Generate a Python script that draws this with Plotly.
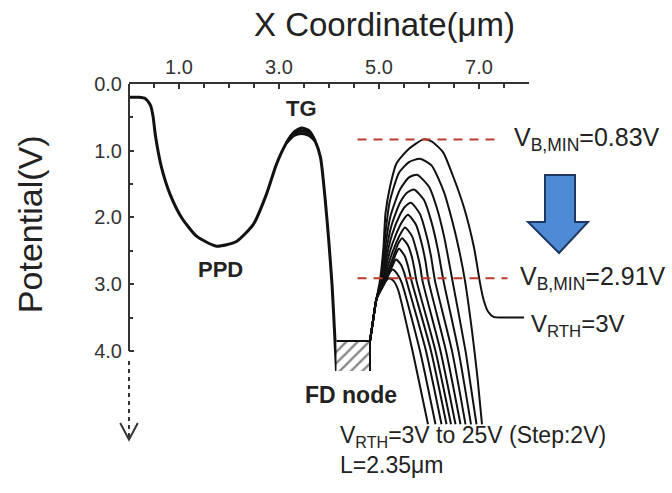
import plotly.graph_objects as go

# ---------------- data ----------------
X_TICKS = [1, 3, 5, 7]
X_TICKTEXT = ["1.0", "3.0", "5.0", "7.0"]
Y_TICKS = [0, 1, 2, 3, 4]
Y_TICKTEXT = ["0.0", "1.0", "2.0", "3.0", "4.0"]

# shared part of the potential profile: PPD well, TG barrier, FD left wall  (x um, potential V)
PROFILE = [(0.00, 0.20), (0.20, 0.20), (0.33, 0.22), (0.43, 0.32), (0.48, 0.48), (0.53, 0.78),
           (0.65, 1.25), (0.82, 1.65), (1.05, 2.00), (1.35, 2.28), (1.75, 2.43), (2.15, 2.36),
           (2.49, 2.10), (2.75, 1.65), (2.95, 1.20), (3.15, 0.88), (3.30, 0.72), (3.45, 0.66),
           (3.60, 0.70), (3.72, 0.85), (3.83, 1.10), (3.92, 1.70), (3.99, 2.30), (4.06, 3.00),
           (4.11, 3.70), (4.15, 4.30)]
# the TG barrier top is slightly different for each VRTH (thick band)
TG_SPREAD_A = [(3.15, 0.88), (3.30, 0.74), (3.45, 0.70), (3.60, 0.73), (3.72, 0.85)]
TG_SPREAD_B = [(3.15, 0.88), (3.30, 0.77), (3.45, 0.74), (3.60, 0.77), (3.72, 0.85)]

# FD node (hatched charge level)
FD_X = [4.15, 4.82]
FD_V = [3.85, 4.30]

# reset-drain curves, VRTH = 3V .. 25V (step 2V)
VRTH = [3, 5, 7, 9, 11, 13, 15, 17, 19, 21, 23, 25]
RTH_03 = [(4.82, 3.85), (4.88, 3.55), (4.95, 3.22), (5.02, 2.94), (5.09, 2.44), (5.13, 1.94), (5.22, 1.54),
          (5.35, 1.19), (5.60, 0.97), (5.89, 0.83), (6.05, 0.86), (6.28, 1.02), (6.47, 1.36), (6.70, 1.85),
          (6.90, 2.45), (7.02, 2.98), (7.09, 3.23), (7.18, 3.41), (7.29, 3.49), (7.45, 3.50), (7.90, 3.50)]
RTH_05 = [(4.82, 3.85), (4.88, 3.55), (4.95, 3.22), (5.04, 2.94), (5.12, 2.30), (5.21, 1.78), (5.40, 1.33),
          (5.60, 1.17), (5.82, 1.12), (6.05, 1.22), (6.30, 1.62), (6.46, 2.04), (6.60, 2.48), (6.72, 2.95),
          (6.86, 3.70), (6.97, 4.40), (7.06, 5.10)]
RTH_07 = [(4.82, 3.85), (4.88, 3.55), (4.95, 3.22), (5.05, 2.94), (5.13, 2.42), (5.23, 1.98), (5.42, 1.58),
          (5.60, 1.40), (5.76, 1.36), (6.00, 1.54), (6.15, 1.84), (6.30, 2.28), (6.47, 2.95), (6.73, 4.00),
          (6.84, 4.55), (6.95, 5.10)]
RTH_09 = [(4.82, 3.85), (4.88, 3.55), (4.95, 3.22), (5.06, 2.95), (5.14, 2.52), (5.25, 2.12), (5.42, 1.78),
          (5.56, 1.63), (5.70, 1.58), (5.90, 1.74), (6.05, 2.07), (6.18, 2.49), (6.29, 2.95), (6.59, 4.00),
          (6.84, 5.10)]
RTH_11 = [(4.82, 3.85), (4.88, 3.55), (4.95, 3.22), (5.07, 2.95), (5.15, 2.60), (5.26, 2.26), (5.42, 1.96),
          (5.52, 1.84), (5.64, 1.78), (5.82, 1.95), (5.95, 2.27), (6.04, 2.58), (6.12, 2.95), (6.46, 4.00),
          (6.73, 5.10)]
RTH_13 = [(4.82, 3.85), (4.88, 3.55), (4.95, 3.22), (5.08, 2.96), (5.16, 2.67), (5.27, 2.39), (5.42, 2.12),
          (5.50, 2.02), (5.58, 1.96), (5.74, 2.11), (5.85, 2.38), (5.93, 2.66), (5.99, 2.95), (6.34, 4.00),
          (6.63, 5.10)]
RTH_15 = [(4.82, 3.85), (4.88, 3.55), (4.95, 3.22), (5.08, 2.97), (5.17, 2.74), (5.28, 2.50), (5.42, 2.26),
          (5.52, 2.15), (5.66, 2.28), (5.75, 2.50), (5.82, 2.72), (5.87, 2.95), (6.23, 4.00), (6.53, 5.10)]
RTH_17 = [(4.82, 3.85), (4.88, 3.55), (4.95, 3.22), (5.09, 2.98), (5.18, 2.80), (5.28, 2.60), (5.38, 2.40),
          (5.46, 2.31), (5.58, 2.42), (5.66, 2.60), (5.71, 2.78), (5.75, 2.95), (6.13, 4.00), (6.44, 5.10)]
RTH_19 = [(4.82, 3.85), (4.88, 3.55), (4.95, 3.22), (5.09, 2.99), (5.18, 2.85), (5.27, 2.68), (5.34, 2.54),
          (5.40, 2.47), (5.51, 2.57), (5.58, 2.73), (5.65, 2.95), (6.04, 4.00), (6.35, 5.10)]
RTH_21 = [(4.82, 3.85), (4.88, 3.55), (4.95, 3.22), (5.09, 3.00), (5.17, 2.89), (5.26, 2.74), (5.34, 2.63),
          (5.44, 2.71), (5.50, 2.82), (5.55, 2.95), (5.94, 4.00), (6.25, 5.10)]
RTH_23 = [(4.82, 3.85), (4.88, 3.55), (4.95, 3.22), (5.09, 3.01), (5.15, 2.93), (5.21, 2.83), (5.27, 2.78),
          (5.36, 2.84), (5.45, 2.97), (5.82, 4.00), (6.13, 5.10)]
RTH_25 = [(4.82, 3.85), (4.88, 3.55), (4.95, 3.22), (5.09, 3.02), (5.14, 2.95), (5.20, 2.91), (5.29, 2.95),
          (5.38, 3.08), (5.67, 4.00), (5.98, 5.10)]
CURVES = [RTH_03, RTH_05, RTH_07, RTH_09, RTH_11, RTH_13, RTH_15, RTH_17, RTH_19, RTH_21, RTH_23, RTH_25]

VB_MIN = [0.83, 2.91]     # barrier minimum for VRTH=3V and VRTH=25V
GATE_LENGTH = 2.35        # um

# ---------------- figure ----------------
FONT = "Liberation Sans, Arial, sans-serif"
INK = "#111111"
fig = go.Figure()


def add_line(pts, width, name):
    fig.add_trace(go.Scatter(x=[p[0] for p in pts], y=[p[1] for p in pts], mode="lines",
                             line=dict(color=INK, width=width, shape="spline", smoothing=0.6),
                             name=name, showlegend=False, hoverinfo="skip"))


add_line(PROFILE, 3, "profile")
add_line(TG_SPREAD_A, 3, "tg")
add_line(TG_SPREAD_B, 3, "tg")

# hatched FD node charge
fig.add_trace(go.Scatter(x=[FD_X[0], FD_X[1], FD_X[1], FD_X[0], FD_X[0]],
                         y=[FD_V[0], FD_V[0], FD_V[1], FD_V[1], FD_V[0]],
                         mode="lines", fill="toself", fillcolor="white",
                         fillpattern=dict(shape="/", fgcolor=INK, bgcolor="white", size=8, solidity=0.3),
                         line=dict(width=0), showlegend=False, hoverinfo="skip"))
fig.add_trace(go.Scatter(x=[FD_X[0], FD_X[1], FD_X[1]], y=[FD_V[0], FD_V[0], FD_V[1]], mode="lines",
                         line=dict(color=INK, width=2), showlegend=False, hoverinfo="skip"))

for v, pts in zip(VRTH, CURVES):
    add_line(pts, 2, f"VRTH={v}V")

RED = "#C0392B"
shapes = [
    dict(type="line", xref="x", yref="y", x0=4.57, x1=7.40, y0=VB_MIN[0], y1=VB_MIN[0],
         line=dict(color=RED, width=2, dash="9px,7px"), layer="above"),
    dict(type="line", xref="x", yref="y", x0=4.57, x1=7.57, y0=VB_MIN[1], y1=VB_MIN[1],
         line=dict(color=RED, width=2, dash="9px,7px"), layer="above"),
    # left axis line 0..4 and dotted continuation with open arrowhead
    dict(type="line", xref="paper", yref="y", x0=0, x1=0, y0=0, y1=4.0, line=dict(color="#333", width=2)),
    dict(type="line", xref="paper", yref="y", x0=0, x1=0, y0=4.15, y1=5.30,
         line=dict(color="#333", width=2, dash="4px,4px")),
    dict(type="path", xref="paper", yref="y", path="M -0.022,5.08 L 0,5.33 L 0.022,5.08",
         line=dict(color="#333", width=2)),
    # blue down arrow
    dict(type="path", xref="paper", yref="paper",
         path="M 1.04,0.752 L 1.115,0.752 L 1.115,0.624 L 1.1475,0.624 L 1.075,0.5395 "
              "L 0.9975,0.624 L 1.04,0.624 Z",
         fillcolor="#4F8AD4", line=dict(color="#1F3864", width=2)),
]

ann = []
def text(t, x, y, xref, yref, size, bold=False, xanchor="center", **kw):
    ann.append(dict(text=f"<b>{t}</b>" if bold else t, x=x, y=y, xref=xref, yref=yref, showarrow=False,
                    xanchor=xanchor, yanchor="middle",
                    font=dict(family=FONT, size=size, color="#222"), **kw))

text("X Coordinate(μm)", 0.6375, 1.161, "paper", "paper", 33)
text("Potential(V)", -0.2475, 2.1, "paper", "y", 34, textangle=-90)
text("TG", 3.45, 0.36, "x", "y", 22, bold=True)
text("PPD", 1.82, 2.78, "x", "y", 22, bold=True)
text("FD node", 4.43, 4.66, "x", "y", 23, bold=True)
text(f"V<sub>B,MIN</sub>={VB_MIN[0]:.2f}V", 0.9575, VB_MIN[0], "paper", "y", 25, xanchor="left")
text(f"V<sub>B,MIN</sub>={VB_MIN[1]:.2f}V", 0.9725, VB_MIN[1], "paper", "y", 25, xanchor="left")
text(f"V<sub>RTH</sub>={VRTH[0]}V", 1.0, 3.62, "paper", "y", 24, xanchor="left")
text(f"V<sub>RTH</sub>={VRTH[0]}V to {VRTH[-1]}V (Step:{VRTH[1]-VRTH[0]}V)<br>L={GATE_LENGTH}μm",
     0.5225, 0.003, "paper", "paper", 23, xanchor="left", align="left")

fig.update_layout(
    width=672, height=493,
    margin=dict(l=129, r=143, t=84, b=42),
    paper_bgcolor="white", plot_bgcolor="white",
    showlegend=False,
    shapes=shapes, annotations=ann,
    xaxis=dict(side="top", range=[0, 8], showgrid=False, zeroline=False,
               showline=True, linecolor="#333", linewidth=2,
               tickvals=X_TICKS, ticktext=X_TICKTEXT, ticks="inside", ticklen=5, tickwidth=2, tickcolor="#333",
               minor=dict(dtick=0.5, tick0=0, ticks="inside", ticklen=4, tickwidth=2, tickcolor="#333"),
               tickfont=dict(family=FONT, size=20, color="#333")),
    yaxis=dict(range=[5.5, 0], showgrid=False, zeroline=False, showline=False,
               tickvals=Y_TICKS, ticktext=Y_TICKTEXT, ticks="inside", ticklen=5, tickwidth=2, tickcolor="#333",
               minor=dict(tickvals=[0.5, 1.5, 2.5, 3.5], ticks="inside", ticklen=4, tickwidth=2, tickcolor="#333"),
               tickfont=dict(family=FONT, size=20, color="#333"), ticklabelstandoff=6),
)

fig.write_html("out.html")
